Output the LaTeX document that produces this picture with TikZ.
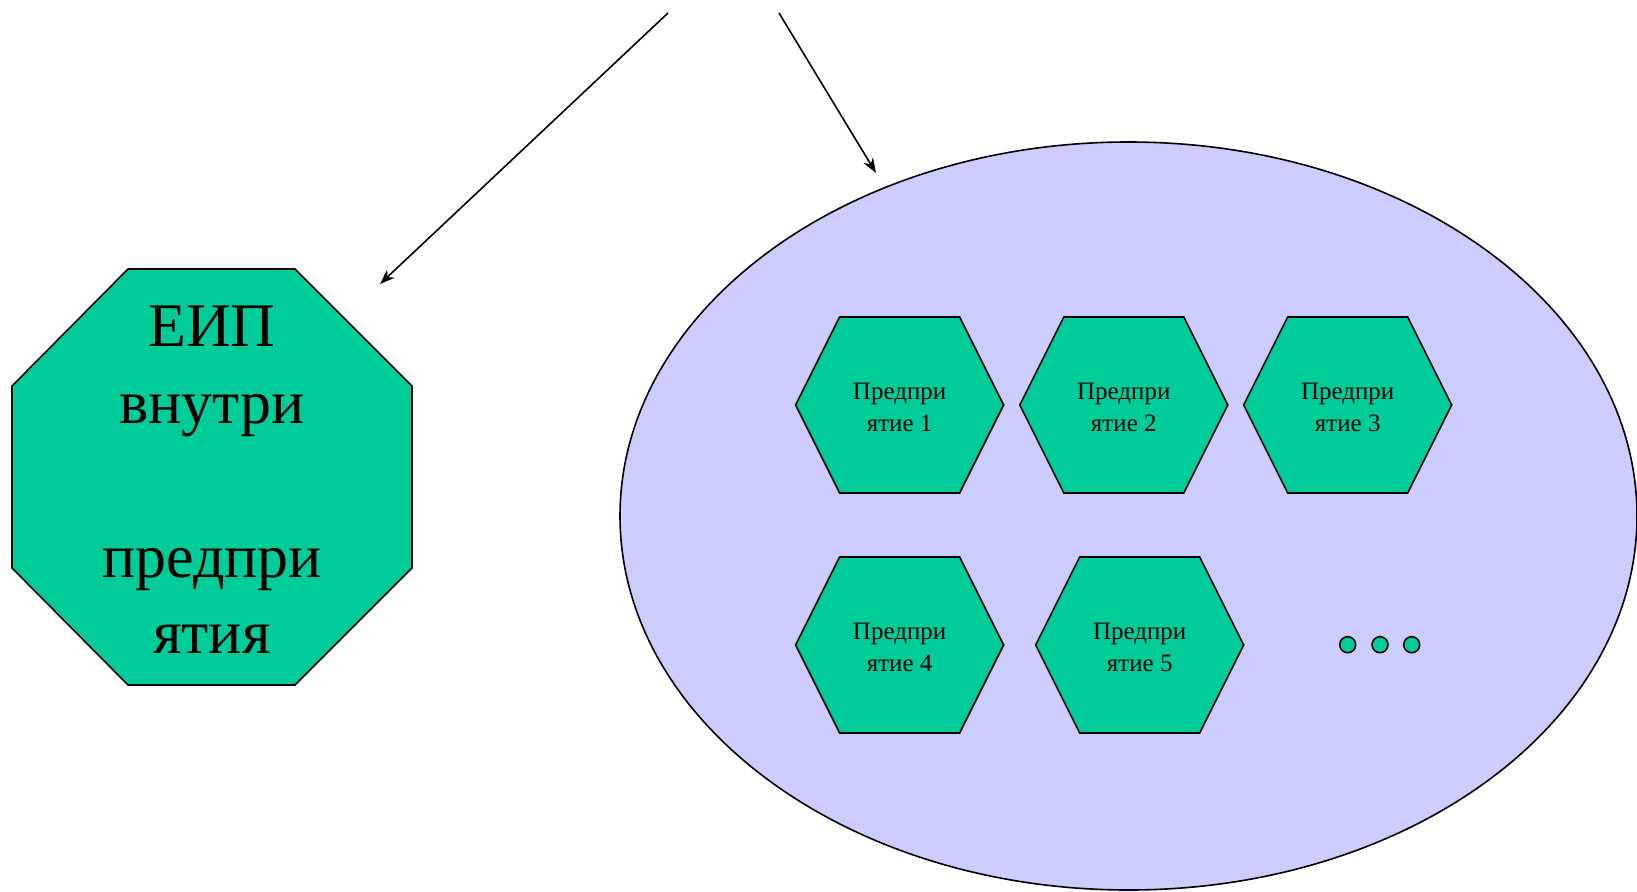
\documentclass[tikz,border=0pt]{standalone}
\usepackage{fontspec}
\setmainfont{Liberation Serif}
\usetikzlibrary{arrows.meta}
\definecolor{shapegreen}{RGB}{0,204,153}
\definecolor{ellblue}{RGB}{204,204,255}
\tikzset{
  shapeline/.style={draw=black, line width=1.6pt, line join=miter, fill=shapegreen},
  bigtext/.style={anchor=base, inner sep=0pt, font=\fontsize{62}{77}\selectfont},
  smalltext/.style={anchor=base, inner sep=0pt, font=\fontsize{25}{31}\selectfont},
  conn/.style={draw=black, line width=1.6pt, -{Stealth[length=15pt,width=11pt]}},
  dotstyle/.style={circle, draw=black, line width=1.6pt, fill=shapegreen, minimum size=16pt, inner sep=0pt}
}
\newcommand\hexshape[1]{%
  \draw[shapeline] (#1) ++(-104,0) -- ++(44,-88) -- ++(120,0) -- ++(44,88) -- ++(-44,88) -- ++(-120,0) -- cycle;}
\begin{document}
\begin{tikzpicture}[x=1pt,y=-1pt]
\useasboundingbox (0,0) rectangle (1637,891);
% octagon
\draw[shapeline] (128,269) -- (295,269) -- (412,386) -- (412,568) -- (295,685) -- (128,685) -- (12,568) -- (12,386) -- cycle;
\node[bigtext] (eip1) at (212,346) {ЕИП};
\node[bigtext] (eip2) at (212,423) {внутри};
\node[bigtext] (eip3) at (212,577) {предпри};
\node[bigtext] (eip4) at (212,653) {ятия};
% ellipse
\draw[draw=black, line width=1.6pt, fill=ellblue] (1128.5,516) ellipse [x radius=508.5pt, y radius=374pt];
% hexagons
\coordinate (h1) at (899.6,405);
\coordinate (h2) at (1123.8,405);
\coordinate (h3) at (1347.7,405);
\coordinate (h4) at (899.6,645);
\coordinate (h5) at (1139.7,645);
\hexshape{h1}\hexshape{h2}\hexshape{h3}\hexshape{h4}\hexshape{h5}
\node[smalltext] (t1a) at (899.6,399) {Предпри};
\node[smalltext] (t1b) at (899.6,431) {ятие 1};
\node[smalltext] (t2a) at (1123.8,399) {Предпри};
\node[smalltext] (t2b) at (1123.8,431) {ятие 2};
\node[smalltext] (t3a) at (1347.7,399) {Предпри};
\node[smalltext] (t3b) at (1347.7,431) {ятие 3};
\node[smalltext] (t4a) at (899.6,639) {Предпри};
\node[smalltext] (t4b) at (899.6,671) {ятие 4};
\node[smalltext] (t5a) at (1139.7,639) {Предпри};
\node[smalltext] (t5b) at (1139.7,671) {ятие 5};
% dots
\node[dotstyle] (d1) at (1347.7,644.7) {};
\node[dotstyle] (d2) at (1380,644.7) {};
\node[dotstyle] (d3) at (1411.7,644.7) {};
% arrows
\coordinate (s1) at (668,13);
\coordinate (e1) at (380,284);
\coordinate (s2) at (779,13);
\coordinate (e2) at (876,173);
\draw[conn] (s1) -- (e1);
\draw[conn] (s2) -- (e2);
\end{tikzpicture}
\end{document}
